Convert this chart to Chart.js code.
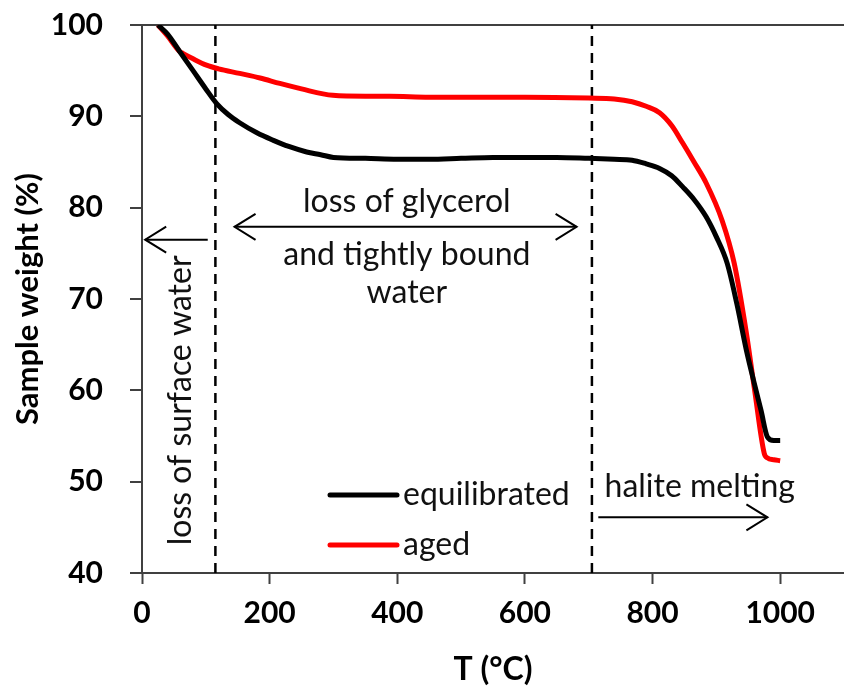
<!DOCTYPE html>
<html>
<head>
<meta charset="utf-8">
<script src="https://cdn.jsdelivr.net/npm/chart.js@4.4.1/dist/chart.umd.min.js"></script>
<style>
  body { margin: 0; background: #fff; }
  #wrap { width: 844px; height: 687px; }
</style>
</head>
<body>
<div id="wrap"><canvas id="myChart" width="844" height="687"></canvas></div>
<script>
// temperature (°C) and sample weight (%)
var tempEq = [25, 40, 59, 80, 100, 117, 135, 153, 180, 205, 230, 258, 280, 300, 350, 400, 450, 500, 550, 600, 650, 700, 740, 768, 790, 811, 830, 847, 865, 884, 900, 917, 932, 947, 960, 970, 980, 990, 1000];
var weightEq = [100, 99, 97.1, 95, 93, 91.4, 90.2, 89.3, 88.2, 87.4, 86.7, 86.1, 85.8, 85.5, 85.4, 85.3, 85.3, 85.4, 85.5, 85.5, 85.5, 85.4, 85.3, 85.2, 84.8, 84.3, 83.5, 82.3, 80.9, 79.0, 76.8, 73.9, 69.5, 64.4, 60.6, 57.8, 54.9, 54.5, 54.5];

var tempAged = [25, 40, 59, 64, 80, 101, 120, 153, 185, 216, 250, 299, 350, 388, 450, 500, 600, 700, 740, 768, 790, 811, 830, 847, 865, 884, 909, 928, 947, 960, 975, 980, 990, 1000];
var weightAged = [100, 98.8, 97.1, 96.9, 96.3, 95.6, 95.2, 94.7, 94.2, 93.6, 93.0, 92.3, 92.2, 92.2, 92.1, 92.1, 92.1, 92.0, 91.9, 91.6, 91.1, 90.4, 89.0, 87.1, 85.0, 82.7, 78.6, 73.9, 66.3, 60.0, 53.1, 52.6, 52.4, 52.3];

var seriesNames = ['equilibrated', 'aged'];
var dividerTemps = [115, 705];

var xTicks = [0, 200, 400, 600, 800, 1000];
var yTicks = [40, 50, 60, 70, 80, 90, 100];

// annotation texts (data coords)
var notes = [
    { text: 'loss of glycerol', x: 415, y: 80.6 },
    { text: 'and tightly bound', x: 415, y: 74.8 },
    { text: 'water', x: 415, y: 70.7 },
    { text: 'halite melting', x: 874, y: 49.4 },
    { text: 'loss of surface water', x: 60, y: 58.9, rotate: true }
];
var arrows = [
    { from: 103, to: 5, y: 76.5, both: false },
    { from: 145, to: 681, y: 77.9, both: true },
    { from: 715, to: 980, y: 46.1, both: false }
];

function toPoints(xs, ys) {
    return xs.map(function (v, i) { return { x: v, y: ys[i] }; });
}

var datasets = [
    { label: seriesNames[0], data: toPoints(tempEq, weightEq), borderColor: '#000', borderWidth: 5 },
    { label: seriesNames[1], data: toPoints(tempAged, weightAged), borderColor: '#ff0000', borderWidth: 5 }
];
datasets.forEach(function (d) {
    d.pointRadius = 0;
    d.cubicInterpolationMode = 'monotone';
    d.fill = false;
});
dividerTemps.forEach(function (t) {
    datasets.push({
        label: 'divider',
        data: [{ x: t, y: 40 }, { x: t, y: 100 }],
        borderColor: '#000', borderWidth: 2.5, borderDash: [10, 7],
        pointRadius: 0, fill: false
    });
});

function drawArrowHead(ctx, x, y, dir) {
    ctx.beginPath();
    ctx.moveTo(x - dir * 21, y - 13);
    ctx.lineTo(x, y);
    ctx.lineTo(x - dir * 21, y + 13);
    ctx.stroke();
}

const notesPlugin = {
    id: 'notes',
    afterDatasetsDraw(chart) {
        const ctx = chart.ctx, xs = chart.scales.x, ys = chart.scales.y;
        ctx.save();
        ctx.fillStyle = '#111';
        ctx.font = '32px Lato';
        ctx.textAlign = 'center';
        ctx.textBaseline = 'middle';
        notes.forEach(function (n) {
            const px = xs.getPixelForValue(n.x), py = ys.getPixelForValue(n.y);
            if (n.rotate) {
                ctx.save();
                ctx.translate(px, py);
                ctx.rotate(-Math.PI / 2);
                ctx.fillText(n.text, 0, 0);
                ctx.restore();
            } else {
                ctx.fillText(n.text, px, py);
            }
        });

        ctx.strokeStyle = '#000';
        ctx.lineWidth = 2;
        arrows.forEach(function (a) {
            const x1 = xs.getPixelForValue(a.from), x2 = xs.getPixelForValue(a.to), py = ys.getPixelForValue(a.y);
            const dir = x2 > x1 ? 1 : -1;
            ctx.beginPath();
            ctx.moveTo(x1, py);
            ctx.lineTo(x2, py);
            ctx.stroke();
            drawArrowHead(ctx, x2, py, dir);
            if (a.both) drawArrowHead(ctx, x1, py, -dir);
        });

        // legend
        ctx.textAlign = 'left';
        [0, 1].forEach(function (i) {
            const ly = 495 + i * 50;
            ctx.strokeStyle = datasets[i].borderColor;
            ctx.lineWidth = 5;
            ctx.lineCap = 'round';
            ctx.beginPath();
            ctx.moveTo(330, ly);
            ctx.lineTo(397, ly);
            ctx.stroke();
            ctx.fillText(datasets[i].label, 403, ly);
        });
        ctx.restore();
    }
};

const config = {
    type: 'line',
    data: { datasets: datasets },
    options: {
        responsive: false,
        animation: false,
        layout: { padding: { top: 25, right: 0, left: 0, bottom: 0 } },
        plugins: { legend: { display: false }, tooltip: { enabled: false } },
        scales: {
            x: {
                type: 'linear', min: 0, max: 1100,
                afterBuildTicks: function (axis) { axis.ticks = xTicks.map(function (v) { return { value: v }; }); },
                afterFit: function (axis) { axis.height = 114; axis.paddingLeft = 0; axis.paddingRight = 0; },
                border: { color: '#404040', width: 2 },
                grid: { drawOnChartArea: false, tickLength: 11, tickColor: '#404040', tickWidth: 2 },
                ticks: {
                    color: '#000', font: { family: 'Lato', weight: 'bold', size: 30 }, padding: 11, maxRotation: 0,
                    callback: function (v) { return String(v); }
                },
                title: { display: true, text: 'T (°C)', color: '#000', font: { family: 'Lato', weight: 'bold', size: 32 }, padding: { top: 0, bottom: -2 } }
            },
            y: {
                min: 40, max: 100,
                afterBuildTicks: function (axis) { axis.ticks = yTicks.map(function (v) { return { value: v }; }); },
                afterFit: function (axis) { axis.width = 142; axis.paddingTop = 0; axis.paddingBottom = 0; },
                border: { color: '#404040', width: 2 },
                grid: {
                    color: function (c) { return c.tick && c.tick.value === 100 ? '#404040' : 'rgba(0,0,0,0)'; },
                    lineWidth: 2, tickLength: 12, tickColor: '#404040', tickWidth: 2
                },
                ticks: { color: '#000', font: { family: 'Lato', weight: 'bold', size: 30 }, padding: 27 },
                title: { display: true, text: 'Sample weight (%)', color: '#000', font: { family: 'Lato', weight: 'bold', size: 31 }, padding: { top: 9, bottom: 0 } }
            }
        }
    },
    plugins: [notesPlugin]
};

const myChart = new Chart(document.getElementById('myChart'), config);
</script>
</body>
</html>
